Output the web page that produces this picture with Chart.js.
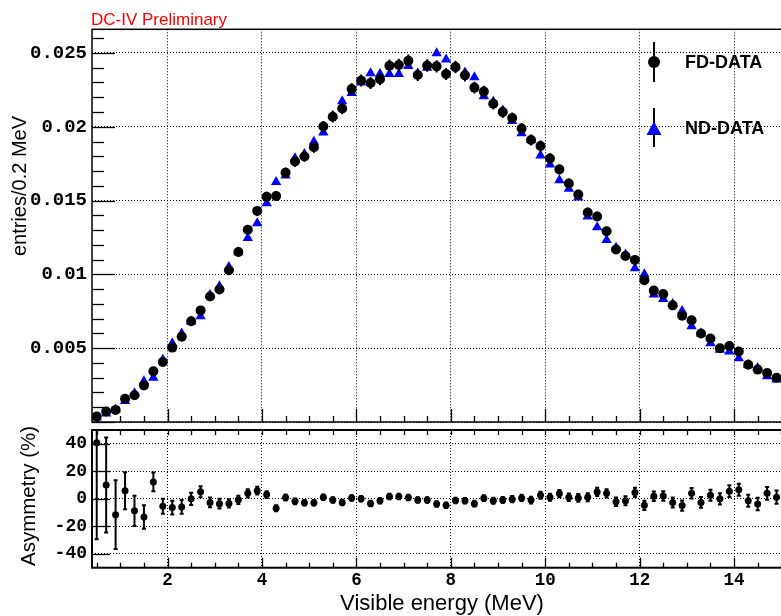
<!DOCTYPE html>
<html>
<head>
<meta charset="utf-8">
<script src="https://cdn.jsdelivr.net/npm/chart.js@4.4.0/dist/chart.umd.min.js"></script>
<style>
  html, body { margin: 0; padding: 0; background: #fff; overflow: hidden; }
  #wrap { position: relative; width: 781px; height: 616px; overflow: hidden; }
  canvas { position: absolute; left: 0; }
  #spectrum { top: 0; }
  #asym { top: 426px; }
</style>
</head>
<body>
<div id="wrap">
  <canvas id="spectrum" width="800" height="428"></canvas>
  <canvas id="asym" width="800" height="190"></canvas>
</div>
<script>
// bin centres in MeV (0.2 MeV bins)
const ENERGY = [
  0.5, 0.7, 0.9, 1.1, 1.3, 1.5, 1.7, 1.9, 2.1, 2.3,
  2.5, 2.7, 2.9, 3.1, 3.3, 3.5, 3.7, 3.9, 4.1, 4.3,
  4.5, 4.7, 4.9, 5.1, 5.3, 5.5, 5.7, 5.9, 6.1, 6.3,
  6.5, 6.7, 6.9, 7.1, 7.3, 7.5, 7.7, 7.9, 8.1, 8.3,
  8.5, 8.7, 8.9, 9.1, 9.3, 9.5, 9.7, 9.9, 10.1, 10.3,
  10.5, 10.7, 10.9, 11.1, 11.3, 11.5, 11.7, 11.9, 12.1, 12.3,
  12.5, 12.7, 12.9, 13.1, 13.3, 13.5, 13.7, 13.9, 14.1, 14.3,
  14.5, 14.7, 14.9
];

// normalised spectra, entries per 0.2 MeV
const FD_DATA = [
  0.00037, 0.00071, 0.00082, 0.00158, 0.00181, 0.00248, 0.00343, 0.00406, 0.00504, 0.00578,
  0.00683, 0.00756, 0.0085, 0.00897, 0.01028, 0.01151, 0.01302, 0.0143, 0.01526, 0.0153,
  0.01689, 0.01764, 0.01798, 0.01861, 0.02001, 0.02068, 0.02124, 0.02255, 0.02313, 0.02296,
  0.02322, 0.02413, 0.02418, 0.02447, 0.02351, 0.02415, 0.02409, 0.02357, 0.02404, 0.02348,
  0.02265, 0.02238, 0.02156, 0.02099, 0.02059, 0.01988, 0.0191, 0.01869, 0.01785, 0.01711,
  0.01615, 0.01541, 0.01419, 0.01392, 0.01292, 0.01169, 0.01124, 0.01098, 0.00961, 0.0089,
  0.00867, 0.0079, 0.0072, 0.00689, 0.006, 0.00566, 0.00499, 0.00515, 0.00477, 0.00388,
  0.00355, 0.00332, 0.00299
];
const FD_ERR = [
  0.00007, 0.00009, 0.0001, 0.00012, 0.00013, 0.00014, 0.00016, 0.00017, 0.00019, 0.0002,
  0.00022, 0.00023, 0.00025, 0.00026, 0.00027, 0.00029, 0.0003, 0.00032, 0.00033, 0.00033,
  0.00035, 0.00036, 0.00036, 0.00037, 0.00038, 0.00039, 0.00039, 0.0004, 0.00041, 0.00041,
  0.00041, 0.00042, 0.00042, 0.00042, 0.00041, 0.00042, 0.00042, 0.00041, 0.00042, 0.00041,
  0.0004, 0.0004, 0.00039, 0.00039, 0.00038, 0.00038, 0.00037, 0.00037, 0.00036, 0.00035,
  0.00034, 0.00033, 0.00032, 0.00032, 0.00031, 0.00029, 0.00029, 0.00028, 0.00027, 0.00025,
  0.00025, 0.00024, 0.00023, 0.00022, 0.00021, 0.0002, 0.00019, 0.00019, 0.00018, 0.00017,
  0.00016, 0.00016, 0.00015
];
const ND_DATA = [
  0.0003, 0.00058, 0.00085, 0.00143, 0.00194, 0.00276, 0.00299, 0.00422, 0.00533, 0.006,
  0.0068, 0.00716, 0.0086, 0.00919, 0.0105, 0.0115, 0.01247, 0.01347, 0.01481, 0.01626,
  0.0167, 0.01787, 0.01816, 0.01898, 0.01961, 0.02075, 0.02173, 0.02229, 0.023, 0.02363,
  0.02358, 0.02358, 0.02358, 0.02411, 0.0236, 0.024, 0.02497, 0.02455, 0.0241, 0.02367,
  0.02336, 0.02206, 0.0217, 0.0211, 0.02039, 0.01956, 0.0191, 0.01806, 0.01745, 0.01637,
  0.0158, 0.0152, 0.01392, 0.01319, 0.01232, 0.0118, 0.01135, 0.01042, 0.01001, 0.00863,
  0.00834, 0.008, 0.00752, 0.00649, 0.006, 0.00533, 0.00489, 0.00477, 0.00432, 0.00388,
  0.00365, 0.0031, 0.00288
];

// FD/ND asymmetry in percent
const ASYM = [
  40.7, 10.1, -11.5, 5.9, -8.7, -13.2, 12.3, -5.4, -6.3, -5.9,
  0, 5.2, -2.6, -3.5, -3.3, -0.7, 4.0, 5.9, 3.1, -6.8,
  1.0, -1.8, -2.8, -2.8, 1.2, -0.9, -2.6, 0.7, 0.0, -3.3,
  -1.4, 1.7, 1.7, 1.0, -0.9, -0.9, -3.7, -4.7, -1.2, -1.4,
  -3.5, 0.5, -1.4, -0.9, -0.2, 0.7, -0.9, 2.6, 1.2, 3.8,
  1.2, 0.7, 1.2, 5.0, 4.0, -2.1, -1.4, 4.7, -4.7, 1.9,
  2.1, -2.6, -4.9, 4.0, -2.6, 2.6, 0.0, 5.6, 6.6, -1.4,
  -3.7, 4.0, 1.2
];
const ASYM_ERR = [
  70, 34.5, 25, 13.5, 11, 8.5, 6.8, 5.5, 5, 5,
  4.5, 4, 3.5, 3.5, 3, 3, 3, 2.8, 2.5, 2.2,
  2.2, 2.1, 2, 2, 2, 2, 2, 2, 2, 2,
  2, 2, 2, 2, 2, 2, 2, 2, 2, 2,
  2.1, 2.1, 2.2, 2.2, 2.3, 2.3, 2.4, 2.5, 2.5, 2.6,
  2.7, 2.8, 2.9, 3, 3, 3.1, 3.2, 3.3, 3.4, 3.5,
  3.5, 3.6, 3.7, 3.8, 3.9, 4, 4.1, 4.2, 4.3, 4.4,
  4.5, 4.6, 4.8
];

const X_TICKS = [2, 4, 6, 8, 10, 12, 14];
const SPEC_TICKS = [0, 0.005, 0.01, 0.015, 0.02, 0.025];
const ASYM_TICKS = [-40, -20, 0, 20, 40];
const X_MIN = 0.4, X_MAX = 15.1;

const MONO = 'Liberation Mono';
const SANS = 'Liberation Sans';

function points(ys) {
  return ENERGY.map((x, i) => ({ x: x, y: ys[i] }));
}

// the frame is placed by layout.padding alone, so drop the label overhang
function noOverhang(s) {
  s.paddingTop = 0;
  s.paddingBottom = 0;
  s.paddingLeft = 0;
  s.paddingRight = 0;
}

function energyAxis(showLabels, height) {
  return {
    type: 'linear', min: X_MIN, max: X_MAX,
    afterBuildTicks: s => { s.ticks = X_TICKS.map(v => ({ value: v })); },
    afterFit: s => { s.height = height; noOverhang(s); },
    grid: { color: '#000', lineWidth: 1, drawTicks: false },
    border: { display: false, dash: [1, 2] },
    ticks: {
      display: showLabels, padding: 2, color: '#000',
      font: { family: MONO, weight: 'bold', size: 17.5 },
      callback: v => String(v)
    }
  };
}

function valueAxis(min, max, tickList, fontSize, fmt) {
  return {
    min: min, max: max,
    afterBuildTicks: s => { s.ticks = tickList.map(v => ({ value: v })); },
    afterFit: s => { s.width = 92; noOverhang(s); },
    grid: { color: '#000', lineWidth: 1, drawTicks: false },
    border: { display: false, dash: [1, 2] },
    ticks: {
      padding: 5, color: '#000',
      font: { family: MONO, weight: 'bold', size: fontSize },
      callback: fmt
    }
  };
}

// vertical error bars, drawn just before each dataset's markers
const errorBars = {
  id: 'errorBars',
  beforeDatasetDraw(chart, args) {
    const ds = chart.data.datasets[args.index];
    if (!ds.errors) return;
    const { ctx, chartArea: a } = chart;
    const yScale = chart.scales[args.meta.yAxisID];
    ctx.save();
    ctx.beginPath();
    ctx.rect(a.left, a.top, a.right - a.left, a.bottom - a.top);
    ctx.clip();
    ctx.strokeStyle = '#000';
    ctx.lineWidth = 2;
    args.meta.data.forEach((pt, i) => {
      const v = ds.data[i].y, e = ds.errors[i];
      const y1 = yScale.getPixelForValue(v + e);
      const y2 = yScale.getPixelForValue(v - e);
      ctx.beginPath();
      ctx.moveTo(pt.x, y1);
      ctx.lineTo(pt.x, y2);
      if (ds.errorCap) {
        ctx.moveTo(pt.x - ds.errorCap, y1); ctx.lineTo(pt.x + ds.errorCap, y1);
        ctx.moveTo(pt.x - ds.errorCap, y2); ctx.lineTo(pt.x + ds.errorCap, y2);
      }
      ctx.stroke();
    });
    ctx.restore();
  }
};

function line(ctx, x1, y1, x2, y2) {
  ctx.beginPath();
  ctx.moveTo(x1, y1);
  ctx.lineTo(x2, y2);
  ctx.stroke();
}

// ROOT-style frame with ticks pointing inwards
function framePlugin(o) {
  return {
    id: 'frame',
    afterDraw(chart) {
      const { ctx, chartArea: a, scales: { x, y } } = chart;
      ctx.save();
      ctx.strokeStyle = '#000';
      ctx.lineWidth = 1.3;
      o.yMajor.forEach(v => {
        const py = Math.round(y.getPixelForValue(v)) + 0.5;
        line(ctx, a.left, py, a.left + o.yMajorLen, py);
      });
      if (o.yMinorStep) {
        for (let i = 1; i * o.yMinorStep < y.max; i++) {
          if (i % 5 === 0) continue;
          const py = Math.round(y.getPixelForValue(i * o.yMinorStep)) + 0.5;
          line(ctx, a.left, py, a.left + o.yMinorLen, py);
        }
      }
      for (let i = 1; i * 0.5 <= x.max; i++) {
        const v = i * 0.5;
        if (v < x.min) continue;
        const px = Math.round(x.getPixelForValue(v)) + 0.5;
        const major = v % 2 === 0;
        line(ctx, px, a.bottom, px, a.bottom - (major ? o.xMajorLen : o.xMinorLen));
        if (o.xTopLen) line(ctx, px, a.top, px, a.top + o.xTopLen);
      }
      ctx.lineWidth = o.frameWidth;
      ctx.strokeRect(a.left, a.top, a.right - a.left, a.bottom - a.top);
      ctx.restore();
    }
  };
}

const spectrumText = {
  id: 'spectrumText',
  afterDraw(chart) {
    const ctx = chart.ctx;
    ctx.save();
    ctx.fillStyle = '#ff0000';
    ctx.font = '17px "' + SANS + '"';
    ctx.textBaseline = 'alphabetic';
    ctx.fillText('DC-IV Preliminary', 91, 25);

    ctx.fillStyle = '#000';
    ctx.font = '20px "' + SANS + '"';
    ctx.textAlign = 'center';
    ctx.textBaseline = 'middle';
    ctx.save();
    ctx.translate(20, 186);
    ctx.rotate(-Math.PI / 2);
    ctx.fillText('entries/0.2 MeV', 0, 0);
    ctx.restore();

    // legend
    const fd = chart.data.datasets[0], nd = chart.data.datasets[1];
    ctx.strokeStyle = '#000';
    ctx.lineWidth = 2;
    line(ctx, 654, 42, 654, 82);
    line(ctx, 654, 108, 654, 147);
    ctx.fillStyle = fd.backgroundColor;
    ctx.beginPath();
    ctx.arc(654, 62, 6, 0, Math.PI * 2);
    ctx.fill();
    ctx.fillStyle = nd.backgroundColor;
    ctx.beginPath();
    ctx.moveTo(654, 121.5);
    ctx.lineTo(646.5, 135);
    ctx.lineTo(661.5, 135);
    ctx.closePath();
    ctx.fill();

    ctx.fillStyle = '#000';
    ctx.font = 'bold 18px "' + SANS + '"';
    ctx.textAlign = 'left';
    ctx.fillText(fd.label, 685, 63);
    ctx.fillText(nd.label, 685, 129);
    ctx.restore();
  }
};

const asymText = {
  id: 'asymText',
  afterDraw(chart) {
    const ctx = chart.ctx;
    ctx.save();
    ctx.fillStyle = '#000';
    ctx.font = '20.5px "' + SANS + '"';
    ctx.textAlign = 'center';
    ctx.textBaseline = 'middle';
    ctx.save();
    ctx.translate(29, 70);
    ctx.rotate(-Math.PI / 2);
    ctx.fillText('Asymmetry (%)', 0, 0);
    ctx.restore();
    ctx.font = '22px "' + SANS + '"';
    ctx.fillText('Visible energy (MeV)', 442, 178);
    ctx.restore();
  }
};

new Chart(document.getElementById('spectrum'), {
  type: 'scatter',
  data: {
    datasets: [
      {
        label: 'FD-DATA', data: points(FD_DATA), errors: FD_ERR,
        pointStyle: 'circle', pointRadius: 5, pointBorderWidth: 0,
        backgroundColor: '#000', borderColor: '#000'
      },
      {
        label: 'ND-DATA', data: points(ND_DATA),
        pointStyle: 'triangle', pointRadius: 6, pointBorderWidth: 0,
        backgroundColor: '#0000ff', borderColor: '#0000ff'
      }
    ]
  },
  options: {
    responsive: false,
    animation: false,
    events: [],
    layout: { padding: { top: 29.3, left: 0, right: 14, bottom: 1.5 } },
    scales: {
      x: energyAxis(false, 0),
      y: valueAxis(0, 0.0266, SPEC_TICKS, 19, v => v === 0 ? '' : String(v))
    },
    plugins: { legend: { display: false }, tooltip: { enabled: false } }
  },
  plugins: [errorBars, framePlugin({
    yMajor: SPEC_TICKS, yMajorLen: 23, yMinorStep: 0.001, yMinorLen: 12,
    xMajorLen: 13, xMinorLen: 6, xTopLen: 0, frameWidth: 1.5
  }), spectrumText]
});

new Chart(document.getElementById('asym'), {
  type: 'scatter',
  data: {
    datasets: [
      {
        label: 'Asymmetry', data: points(ASYM), errors: ASYM_ERR, errorCap: 2,
        pointStyle: 'circle', pointRadius: 3.5, pointBorderWidth: 0,
        backgroundColor: '#000', borderColor: '#000'
      }
    ]
  },
  options: {
    responsive: false,
    animation: false,
    events: [],
    layout: { padding: { top: 0.7, left: 0, right: 14, bottom: 0 } },
    scales: {
      x: energyAxis(true, 48.3),
      y: valueAxis(-50, 50, ASYM_TICKS, 18, v => String(v))
    },
    plugins: { legend: { display: false }, tooltip: { enabled: false } }
  },
  plugins: [errorBars, framePlugin({
    yMajor: ASYM_TICKS, yMajorLen: 18, yMinorStep: 0, yMinorLen: 0,
    xMajorLen: 10, xMinorLen: 5, xTopLen: 5, frameWidth: 2
  }), asymText]
});
</script>
</body>
</html>
